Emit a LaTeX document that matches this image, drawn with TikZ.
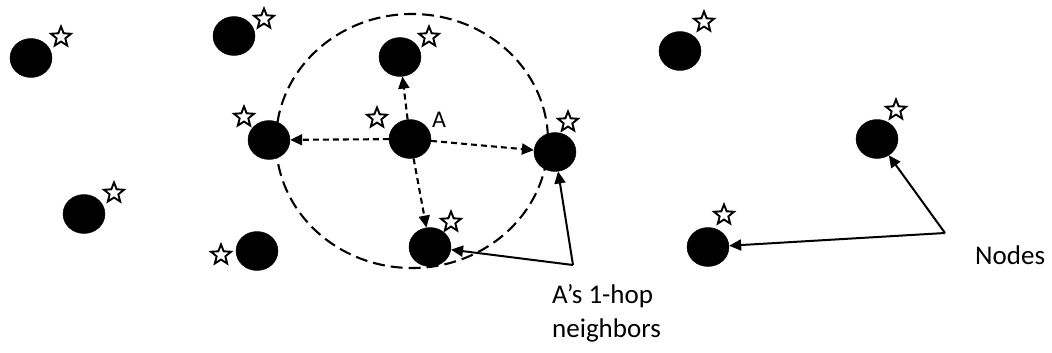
\documentclass[tikz,border=0pt]{standalone}
\usepackage{fontspec}
\setmainfont{Carlito}
\usetikzlibrary{shapes.geometric,arrows.meta}
\tikzset{
  dot/.style={ellipse,fill=black,draw=black,inner sep=0pt,minimum width=42pt,minimum height=39pt},
  mark star/.style={star,star points=5,star point ratio=2.3,draw=black,fill=white,line width=1.9pt,inner sep=0pt,minimum size=21pt},
  hop/.style={line width=2.1pt,dash pattern=on 6pt off 4pt,-{Triangle[length=12pt,width=11pt]}},
  pointer/.style={line width=2pt,-{Triangle[length=12pt,width=11pt]}},
  rangeline/.style={line width=2.1pt,dash pattern=on 12pt off 6pt},
  lbl/.style={font=\fontsize{27}{34}\selectfont,inner sep=0pt}
}
\begin{document}
\begin{tikzpicture}[x=1pt,y=-1pt]
\useasboundingbox (0,0) rectangle (1052,353);
% transmission range of A
\draw[rangeline] (412,141) ellipse [x radius=136,y radius=127];
% sensor nodes
\node[dot] (n1) at (31,58) {};
\node[dot] (n2) at (234,36) {};
\node[dot] (nl) at (269,140) {};
\node[dot] (n4) at (84,214) {};
\node[dot] (n5) at (257,251) {};
\node[dot] (nt) at (400,57) {};
\node[dot] (A) at (410,139) {};
\node[dot] (nr) at (555,152) {};
\node[dot] (nb) at (430,247) {};
\node[dot] (n10) at (680,51) {};
\node[dot] (n11) at (877,139) {};
\node[dot] (n12) at (708,247) {};
% stars
\node[mark star] (s1) at (61,37) {};
\node[mark star] (s2) at (264,19) {};
\node[mark star] (sl) at (244,117) {};
\node[mark star] (s4) at (114,193) {};
\node[mark star] (s5) at (221,255) {};
\node[mark star] (st) at (429,37) {};
\node[mark star] (sA) at (377,118) {};
\node[mark star] (sr) at (568,122) {};
\node[mark star] (sb) at (451,222) {};
\node[mark star] (s10) at (704,22) {};
\node[mark star] (s11) at (896,110) {};
\node[mark star] (s12) at (724,215) {};
% label of A
\node[font=\fontsize{24}{28}\selectfont,inner sep=0pt] (lA) at (439,120) {A};
% one-hop links
\draw[hop] (A) -- (nt);
\draw[hop] (A) -- (nl);
\draw[hop] (A) -- (nr);
\draw[hop] (A) -- (nb);
% callouts
\coordinate (c1) at (573,265);
\coordinate (c2) at (945,233);
\draw[pointer] (c1) -- (nr);
\draw[pointer] (c1) -- (nb);
\draw[pointer] (c2) -- (n11);
\draw[pointer] (c2) -- (n12);
\node[lbl,align=left,anchor=north west] (t1) at (552,284) {A’s 1-hop\\neighbors};
\node[lbl,anchor=west] (t2) at (975,255) {Nodes};
\end{tikzpicture}
\end{document}
